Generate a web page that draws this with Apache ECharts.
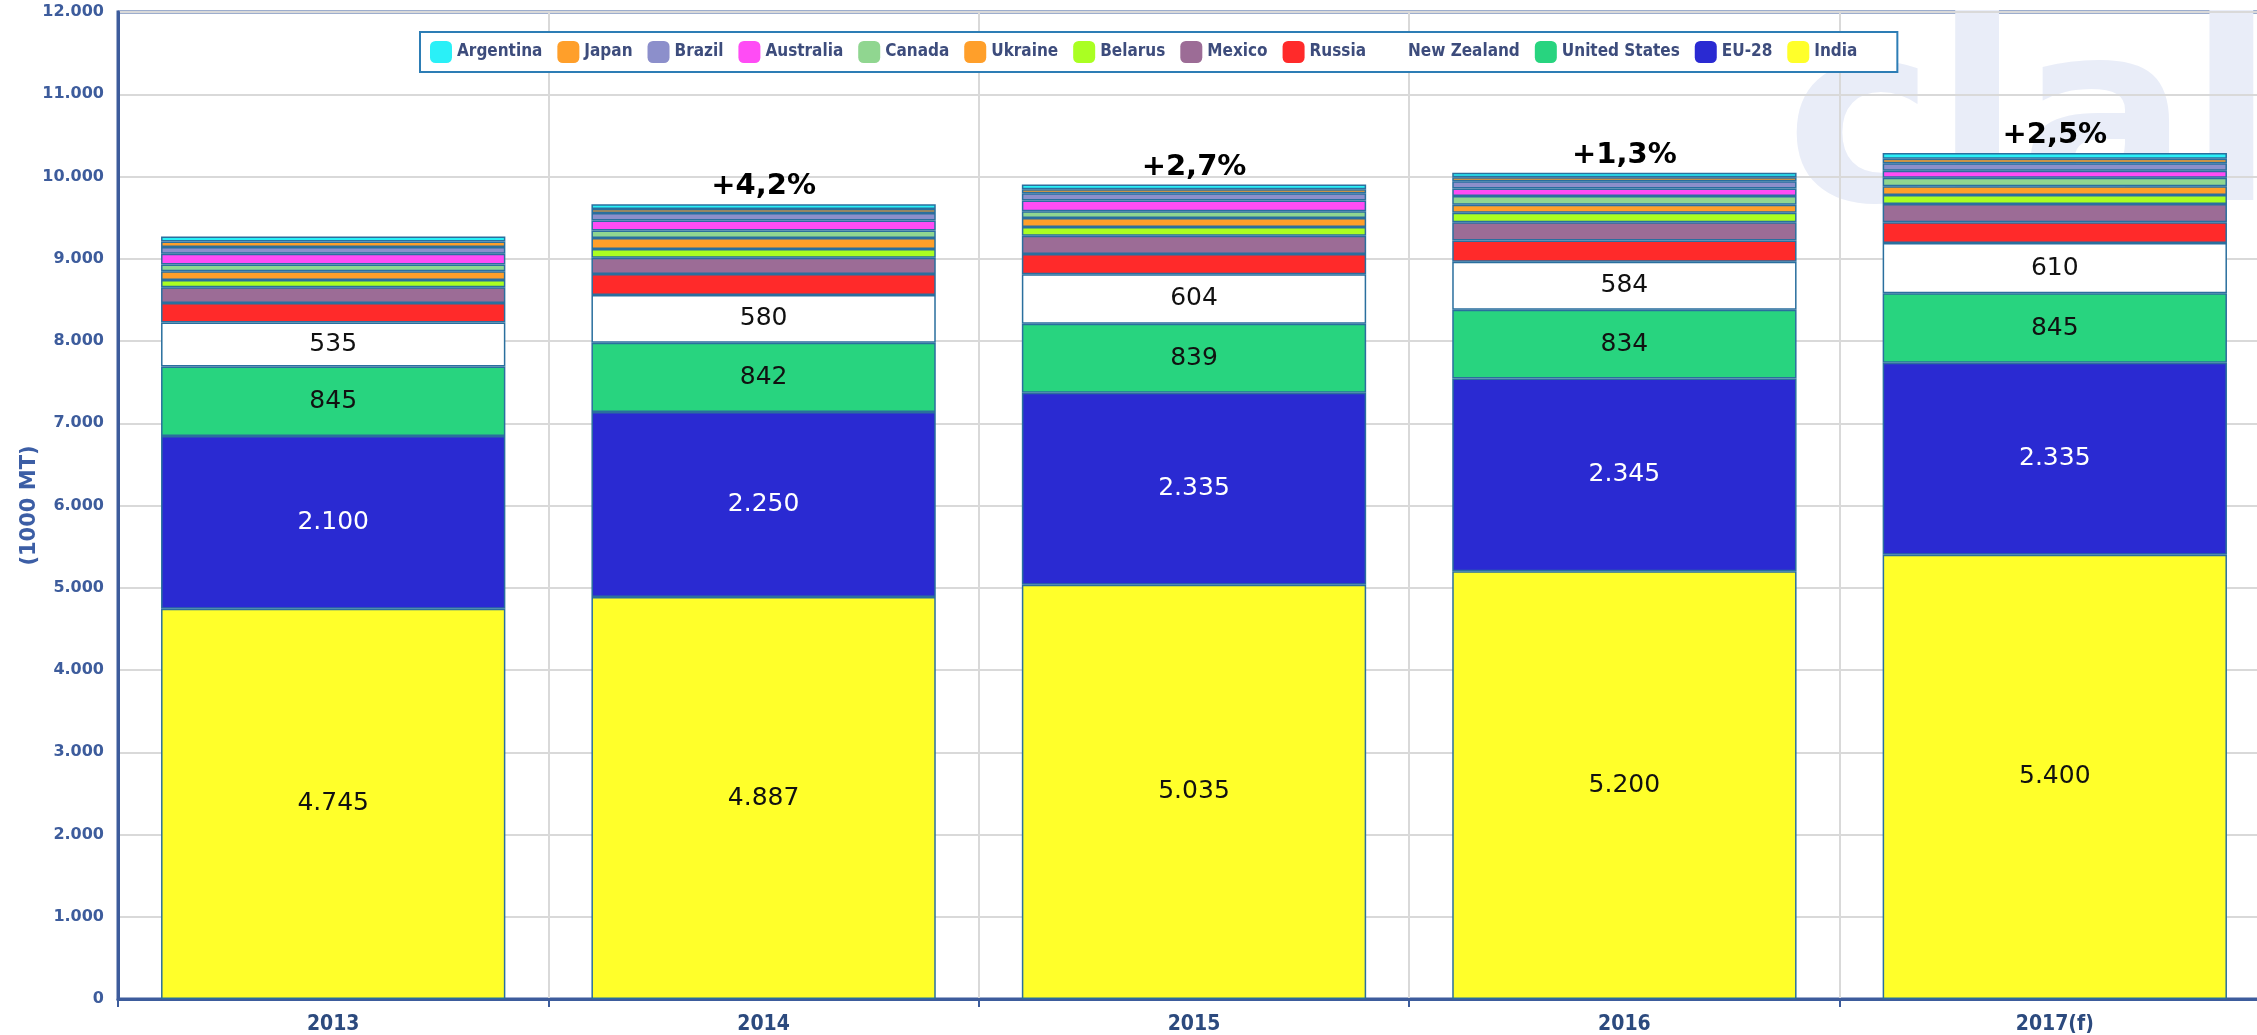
<!DOCTYPE html>
<html>
<head>
<meta charset="utf-8">
<title>Butter production</title>
<script src="https://cdn.jsdelivr.net/npm/echarts@6/dist/echarts.min.js"></script>
<style>
  html, body { margin: 0; padding: 0; overflow: hidden; background: #fff; }
  #main { width: 2272px; height: 1035px; }
</style>
</head>
<body>
<div id="main"></div>
<script>
// 1000 MT
var years = ['2013', '2014', '2015', '2016', '2017(f)'];
var growth = ['', '+4,2%', '+2,7%', '+1,3%', '+2,5%'];

var india = [4745, 4887, 5035, 5200, 5400];
var eu28 = [2100, 2250, 2335, 2345, 2335];
var unitedStates = [845, 842, 839, 834, 845];
var newZealand = [535, 580, 604, 584, 610];
var russia = [238, 255, 246, 260, 255];
var mexico = [189, 198, 221, 220, 220];
var belarus = [90, 107, 107, 115, 110];
var ukraine = [107, 132, 107, 98, 105];
var canada = [82, 91, 82, 107, 105];
var australia = [131, 124, 131, 90, 85];
var brazil = [82, 91, 90, 90, 90];
var japan = [65, 49, 49, 49, 57];
var argentina = [60, 58, 57, 55, 70];

var fontMain = 'Verdana, "DejaVu Sans", sans-serif';
var fontCond = 'Tahoma, "DejaVu Sans Condensed", "DejaVu Sans", sans-serif';

function dots(v) {
  return String(v).replace(/\B(?=(\d{3})+(?!\d))/g, '.');
}

// bottom to top of the stack
var stackDef = [
  { name: 'India', data: india, color: '#ffff2a', label: '#111' },
  { name: 'EU-28', data: eu28, color: '#2a2ad2', label: '#fff' },
  { name: 'United States', data: unitedStates, color: '#28d47f', label: '#111' },
  { name: 'New Zealand', data: newZealand, color: '#ffffff', label: '#111' },
  { name: 'Russia', data: russia, color: '#ff2a2a' },
  { name: 'Mexico', data: mexico, color: '#9c6c96' },
  { name: 'Belarus', data: belarus, color: '#aaff22' },
  { name: 'Ukraine', data: ukraine, color: '#ff9f2a' },
  { name: 'Canada', data: canada, color: '#90d690' },
  { name: 'Australia', data: australia, color: '#ff4cf5' },
  { name: 'Brazil', data: brazil, color: '#8c8fcb' },
  { name: 'Japan', data: japan, color: '#ff9f2a' },
  { name: 'Argentina', data: argentina, color: '#2af0f7' }
];

var series = stackDef.map(function (d, i) {
  var s = {
    name: d.name,
    type: 'bar',
    stack: 'total',
    barWidth: '80%',
    data: d.data,
    itemStyle: { color: d.color, borderColor: '#2a6f9e', borderWidth: 1.5 },
    emphasis: { disabled: true }
  };
  if (d.label) {
    s.label = {
      show: true,
      position: 'inside',
      color: d.label,
      fontFamily: fontMain,
      fontSize: 25,
      formatter: function (p) { return dots(p.value); }
    };
  }
  if (i === stackDef.length - 1) {
    // growth vs previous year, above the whole stack
    s.label = {
      show: true,
      position: 'top',
      distance: 3,
      color: '#000',
      fontFamily: fontMain,
      fontWeight: 'bold',
      fontSize: 29,
      formatter: function (p) { return growth[p.dataIndex]; }
    };
  }
  return s;
});

var legendOrder = stackDef.map(function (d) { return d.name; }).reverse();

var chart = echarts.init(document.getElementById('main'));
var option = {
  animation: false,
  backgroundColor: '#fff',
  graphic: [{
    type: 'text',
    left: 1786,
    top: 10,
    z: 0,
    silent: true,
    style: { text: 'clal', font: 'bold 250px "DejaVu Sans"', fill: '#e9edf8' }
  }],
  legend: {
    left: 420,
    top: 32,
    data: legendOrder,
    icon: 'roundRect',
    itemWidth: 22,
    itemHeight: 22,
    itemGap: 15,
    backgroundColor: '#fff',
    borderColor: '#2d7db5',
    borderWidth: 2,
    padding: [9, 40, 9, 10],
    itemStyle: { borderWidth: 0 },
    textStyle: { fontFamily: fontCond, fontWeight: 'bold', fontSize: 17, color: '#3d4c7c' }
  },
  grid: {
    left: 118,
    right: 2,
    top: 12,
    bottom: 35,
    show: true,
    borderColor: '#3d5c9c',
    borderWidth: 3
  },
  xAxis: {
    type: 'category',
    data: years,
    axisLine: { lineStyle: { color: '#3d5c9c', width: 3 } },
    axisTick: { show: true, length: 8, lineStyle: { color: '#3d5c9c', width: 2 } },
    splitLine: { show: true, lineStyle: { color: '#d9d9d9', width: 2 } },
    axisLabel: { fontFamily: fontCond, fontWeight: 'bold', fontSize: 21, color: '#2c4a7e', margin: 15 }
  },
  yAxis: {
    type: 'value',
    min: 0,
    max: 12000,
    interval: 1000,
    name: '(1000 MT)',
    nameLocation: 'middle',
    nameGap: 78,
    nameMoveOverlap: false,
    nameTextStyle: { fontFamily: fontMain, fontWeight: 'bold', fontSize: 21, color: '#3c5ea5' },
    axisLine: { show: true, lineStyle: { color: '#3d5c9c', width: 3 } },
    axisTick: { show: false },
    splitLine: { lineStyle: { color: '#d9d9d9', width: 2 } },
    axisLabel: {
      fontFamily: fontMain, fontWeight: 'bold', fontSize: 16, color: '#3d5c9c', margin: 14,
      formatter: function (v) { return dots(v); }
    }
  },
  series: series
};
chart.setOption(option);
</script>
</body>
</html>
